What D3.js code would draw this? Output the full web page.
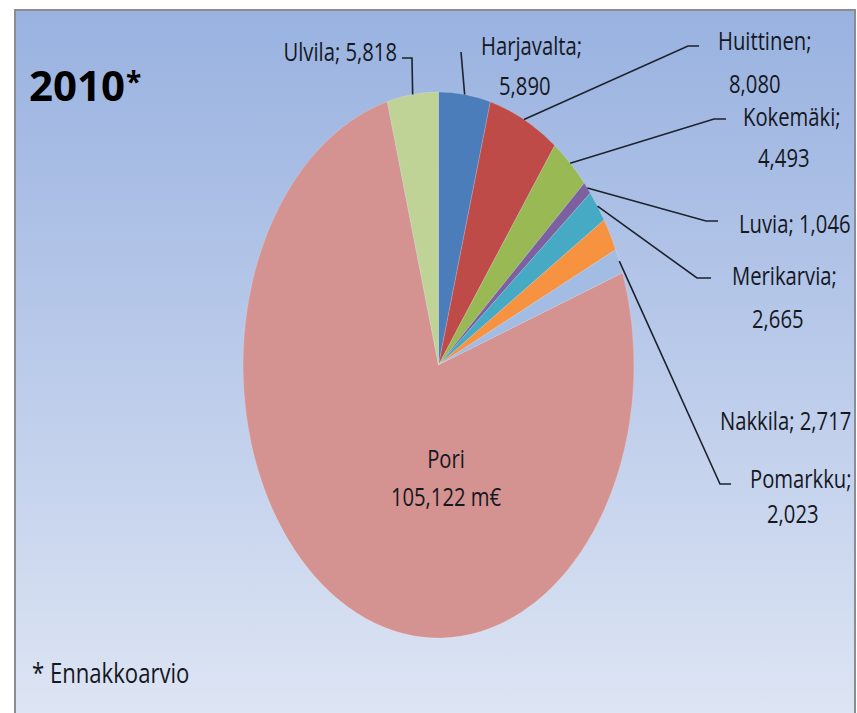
<!DOCTYPE html>
<html>
<head>
<meta charset="utf-8">
<script src="https://cdn.jsdelivr.net/npm/d3@7"></script>
<style>
  html, body { margin: 0; padding: 0; background: #fff; }
  svg { display: block; }
  text { font-family: "Open Sans", "Noto Sans", sans-serif; fill: #15181e; }
</style>
</head>
<body>
<svg id="chart" width="857" height="713"></svg>
<script>
// ---- data ----
const categories = ["Harjavalta", "Huittinen", "Kokemäki", "Luvia", "Merikarvia", "Nakkila", "Pomarkku", "Pori", "Ulvila"];
const values = [5.890, 8.080, 4.493, 1.046, 2.665, 2.717, 2.023, 105.122, 5.818];
const colors = ["#4A7DBA", "#BE4B48", "#98B954", "#7D60A0", "#46AAC5", "#F69240", "#A3BCE3", "#D49291", "#BED395"];
const titleText = "2010";
const unitText = "m€";
const footnote = "* Ennakkoarvio";

// ---- layout (label placement) ----
const W = 857, H = 713;
const cx = 438.5, cy = 365, rx = 195.5, ry = 273;
const labelScaleX = 0.81;
const labelLayout = {
  "Ulvila":     { lines: [[397, 61, "end"]], single: true, leader: [[412, 58], [402, 58]] },
  "Harjavalta": { lines: [[481, 55], [499, 95]], leader: [[461, 52]] },
  "Huittinen":  { lines: [[718, 50], [729, 93]], leader: [[688, 46], [699, 46]] },
  "Kokemäki":   { lines: [[743, 126], [758, 167]], leader: [[714, 119], [726, 119]] },
  "Luvia":      { lines: [[739, 233]], single: true, leader: [[706, 221], [718, 221]] },
  "Merikarvia": { lines: [[732, 285], [752, 328]], leader: [[697, 278], [711, 278]] },
  "Nakkila":    { lines: [[720, 430]], single: true, leader: null },
  "Pomarkku":   { lines: [[750, 488], [767, 523]], leader: [[720, 484], [731, 484]] },
  "Pori":       { lines: [[446, 468, "middle"], [446, 506, "middle"]], inside: true, leader: null }
};

const locale = d3.formatLocale({ decimal: ",", thousands: " ", grouping: [3], currency: ["", "€"] });
const fmt = locale.format(".3f");

const svg = d3.select("#chart");

// background panel
const defs = svg.append("defs");
const grad = defs.append("linearGradient").attr("id", "bg").attr("x1", 0).attr("y1", 0).attr("x2", 0).attr("y2", 1);
grad.append("stop").attr("offset", "0%").attr("stop-color", "#99B2E0");
grad.append("stop").attr("offset", "50%").attr("stop-color", "#BBCBEA");
grad.append("stop").attr("offset", "100%").attr("stop-color", "#DFE6F4");

svg.append("rect").attr("x", 0).attr("y", 0).attr("width", W).attr("height", H).attr("fill", "#fff");
svg.append("rect").attr("x", 15).attr("y", 10).attr("width", 840).attr("height", 720)
  .attr("fill", "url(#bg)").attr("stroke", "#8a8d92").attr("stroke-width", 2);

// pie
const pie = d3.pie().sort(null).value(d => d)(values);
const arc = d3.arc().innerRadius(0).outerRadius(rx);
const edge = d3.arc().innerRadius(rx).outerRadius(rx);
const sy = ry / rx;

const g = svg.append("g").attr("transform", `translate(${cx},${cy}) scale(1,${sy})`);
g.selectAll("path.slice").data(pie).join("path")
  .attr("class", "slice")
  .attr("d", arc)
  .attr("fill", (d, i) => colors[i])
  .attr("stroke", "rgba(255,255,255,0.25)")
  .attr("stroke-width", 0.7)
  .attr("vector-effect", "non-scaling-stroke");

// leaders
const leaderG = svg.append("g");
pie.forEach((d, i) => {
  const L = labelLayout[categories[i]];
  if (!L || !L.leader) return;
  const c = edge.centroid(d);
  const start = [cx + c[0], cy + c[1] * sy];
  const pts = [start].concat(L.leader);
  leaderG.append("path")
    .attr("d", d3.line()(pts))
    .attr("fill", "none")
    .attr("stroke", "#1c222c")
    .attr("stroke-width", 1.6);
});

// labels
function addText(x, y, str, opts) {
  const t = svg.append("text")
    .attr("transform", `translate(${x},${y}) scale(${opts.sx},1)`)
    .attr("text-anchor", opts.anchor || "start")
    .style("font-size", opts.size + "px")
    .text(str);
  if (opts.weight) t.style("font-weight", opts.weight);
  if (opts.fill) t.style("fill", opts.fill);
  return t;
}

pie.forEach((d, i) => {
  const name = categories[i];
  const L = labelLayout[name];
  const v = fmt(values[i]);
  let strs;
  if (L.inside) strs = [name, v + " " + unitText];
  else if (L.single) strs = [name + "; " + v];
  else strs = [name + ";", v];
  strs.forEach((s, k) => {
    const p = L.lines[k];
    addText(p[0], p[1], s, { sx: labelScaleX, size: 25, anchor: p[2] || "start" });
  });
});

// title
addText(29, 101, titleText, { sx: 1.0, size: 42, weight: 700, fill: "#000" });
addText(126, 92, "*", { sx: 1.0, size: 28, weight: 700, fill: "#000" });

// footnote
addText(32, 683, footnote, { sx: 0.79, size: 28 });
</script>
</body>
</html>
